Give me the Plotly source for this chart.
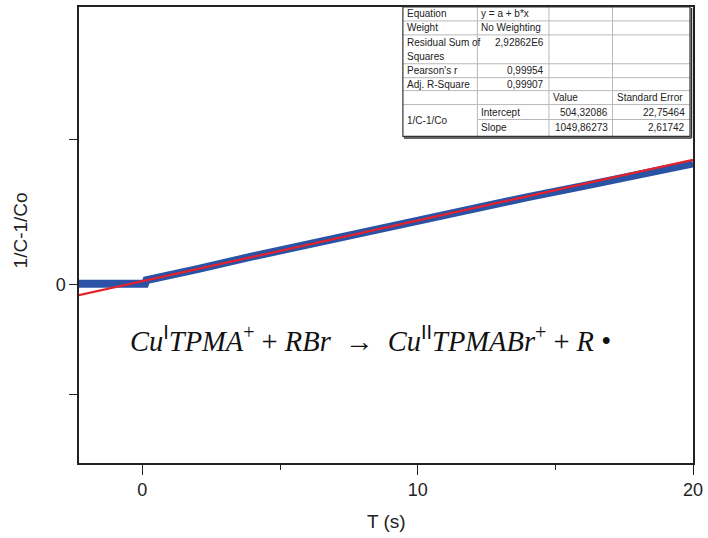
import plotly.graph_objects as go

# ---------------- data ----------------
t_data = [-2.4, -1.5, -0.5, 0.10, 0.15, 0.5, 1.0, 2.0, 4.0, 6.0, 8.0, 10.0, 12.0, 14.0, 16.0, 18.0, 20.0]
y_data = [60, 60, 60, 60, 700, 1000, 1450, 2600, 4800, 6900, 9000, 11050, 13100, 15050, 16950, 18900, 20850]

fit_t = [-2.4, 20.0]
fit_intercept = 504.32086
fit_slope = 1049.86273
fit_y = [fit_intercept + fit_slope * t for t in fit_t]

x_tick_vals = [0, 10, 20]
x_tick_text = ["0", "10", "20"]
x_minor_vals = [5, 15]
y_tick_vals = [0]
y_tick_text = ["0"]
y_unlabeled_ticks = [-19000, 25000]

table_rows = [
    ["Equation", "y = a + b*x", "", ""],
    ["Weight", "No Weighting", "", ""],
    ["Residual Sum of<br>Squares", "2,92862E6", "", ""],
    ["Pearson's r", "0,99954", "", ""],
    ["Adj. R-Square", "0,99907", "", ""],
    ["", "", "Value", "Standard Error"],
    ["1/C-1/Co", "Intercept", "504,32086", "22,75464"],
    ["", "Slope", "1049,86273", "2,61742"],
]

# ---------------- layout helpers ----------------
W, H = 708, 538
PL, PR, PT, PB = 79, 697, 5, 463


def px(x):
    return (x - PL) / (PR - PL)


def py(y):
    return (PB - y) / (PB - PT)


fig = go.Figure()
fig.add_trace(go.Scatter(x=t_data, y=y_data, mode="lines",
                         line=dict(color="#2A53A6", width=8), showlegend=False))
fig.add_trace(go.Scatter(x=fit_t, y=fit_y, mode="lines",
                         line=dict(color="#E8202A", width=2.2), showlegend=False))

font_main = "Liberation Sans, Arial, sans-serif"

fig.update_layout(
    width=W, height=H,
    margin=dict(l=PL, r=W - PR, t=PT, b=H - PB),
    paper_bgcolor="white", plot_bgcolor="white",
    font=dict(family=font_main, color="#222", size=17),
    xaxis=dict(range=[-2.3, 20], tickvals=x_tick_vals, ticktext=x_tick_text,
               ticks="outside", ticklen=10, tickwidth=1.3, tickcolor="#222",
               showline=True, linecolor="#222", linewidth=1.5, mirror=True,
               showgrid=False, zeroline=False,
               minor=dict(tickvals=x_minor_vals, ticks="outside", ticklen=5,
                          tickwidth=1.3, tickcolor="#222", showgrid=False),
               tickfont=dict(size=18)),
    yaxis=dict(range=[-30900, 47900], tickvals=y_tick_vals, ticktext=y_tick_text,
               ticks="outside", ticklen=8, tickwidth=1.3, tickcolor="#222",
               showline=True, linecolor="#222", linewidth=1.5, mirror=True,
               showgrid=False, zeroline=False, tickfont=dict(size=18),
               minor=dict(tickvals=y_unlabeled_ticks, ticks="outside", ticklen=8,
                          tickwidth=1.3, tickcolor="#222", showgrid=False)),
)

sans_sup = "font-family:'Liberation Sans',Arial,sans-serif;font-style:normal"
equation = ("<i>Cu</i><sup><span style=\"" + sans_sup + "\">I</span></sup><i>TPMA</i><sup>+</sup>"
            " + <i>RBr</i>  →  "
            "<i>Cu</i><sup><span style=\"" + sans_sup + "\">II</span></sup><i>TPMABr</i><sup>+</sup>"
            " + <i>R</i> •")

annotations = [
    dict(text="T (s)", x=px(388), y=py(522), xref="paper", yref="paper",
         showarrow=False, font=dict(size=19), xanchor="center", yanchor="middle"),
    dict(text="1/C-1/Co", x=px(20), y=py(229), xref="paper", yref="paper",
         showarrow=False, font=dict(size=19), textangle=-90,
         xanchor="center", yanchor="middle"),
    dict(text=equation,
         x=px(372), y=py(338), xref="paper", yref="paper", showarrow=False,
         font=dict(size=28.5, family="Liberation Serif, DejaVu Serif, serif", color="#111"),
         xanchor="center", yanchor="middle"),
]

# ---------------- table ----------------
col_edges = [405, 480, 552, 616, 694]
row_edges = [5, 19, 33, 62, 76, 89, 103, 118, 135]
shapes = []
grid = dict(color="#b8b8b8", width=1)
for ry in row_edges[1:-1]:
    x0 = col_edges[1] if ry == 118 else col_edges[0]
    shapes.append(dict(type="line", xref="paper", yref="paper",
                       x0=px(x0), x1=px(col_edges[-1]), y0=py(ry), y1=py(ry), line=grid))
for cx in col_edges[1:-1]:
    shapes.append(dict(type="line", xref="paper", yref="paper",
                       x0=px(cx), x1=px(cx), y0=py(row_edges[0]), y1=py(row_edges[-1]), line=grid))
shapes.append(dict(type="rect", xref="paper", yref="paper",
                   x0=px(col_edges[0]), x1=px(col_edges[-1]),
                   y0=py(row_edges[-1]), y1=py(row_edges[0]),
                   line=dict(color="#333", width=1.2), fillcolor="rgba(0,0,0,0)"))
shapes.append(dict(type="line", xref="paper", yref="paper",
                   x0=px(col_edges[-1] + 1.5), x1=px(col_edges[-1] + 1.5),
                   y0=py(row_edges[-1] + 1.5), y1=py(row_edges[0] + 1), line=dict(color="#333", width=1.5)))
shapes.append(dict(type="line", xref="paper", yref="paper",
                   x0=px(col_edges[0] + 1), x1=px(col_edges[-1] + 1.5),
                   y0=py(row_edges[-1] + 1.5), y1=py(row_edges[-1] + 1.5), line=dict(color="#333", width=1.5)))

tf = dict(size=10, color="#222", family=font_main)


def cell(text, xpix, ypix, anchor):
    annotations.append(dict(text=text, x=px(xpix), y=py(ypix), xref="paper", yref="paper",
                            showarrow=False, font=tf, xanchor=anchor, yanchor="middle"))


row_centers = [12, 26, 41, 69, 82.5, 96, 110.5, 126.5]


def numeric(s):
    return s[:1].isdigit()


for r, row in enumerate(table_rows):
    for c, txt in enumerate(row):
        if not txt:
            continue
        yc = row_centers[r]
        if r == 2 and c == 0:
            cell("Residual Sum of", col_edges[0] + 2, 41, "left")
            cell("Squares", col_edges[0] + 2, 55, "left")
            continue
        if r == 6 and c == 0:
            yc = 119
        if numeric(txt) and c > 0:
            cell(txt, col_edges[c + 1] - 3, yc, "right")
        else:
            cell(txt, col_edges[c] + 2, yc, "left")

fig.update_layout(annotations=annotations, shapes=shapes)
fig.write_html("out.html")
